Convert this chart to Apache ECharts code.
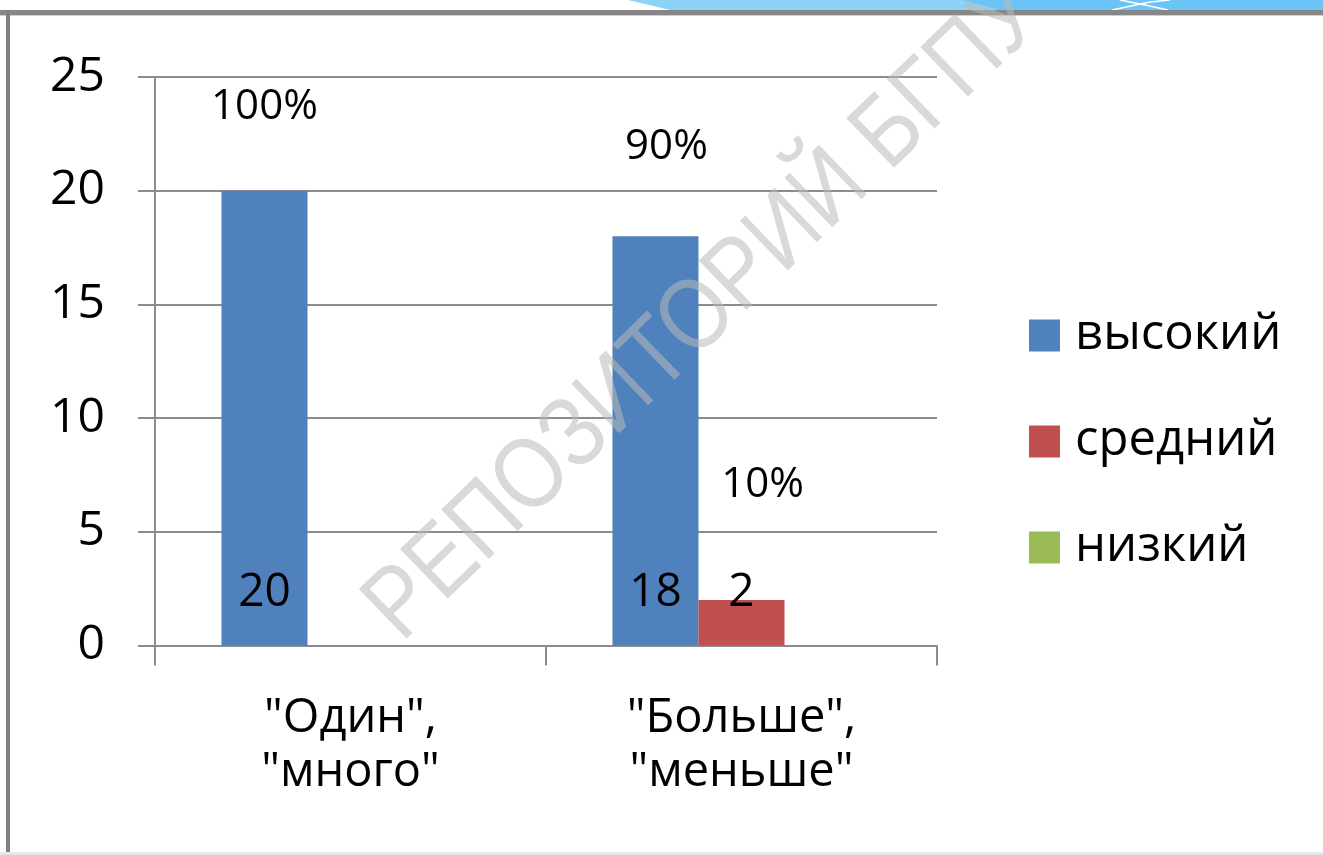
<!DOCTYPE html>
<html>
<head>
<meta charset="utf-8">
<script src="https://cdn.jsdelivr.net/npm/echarts@6/dist/echarts.min.js"></script>
<style>
html,body{margin:0;padding:0;background:#fff;}
#main{width:1323px;height:855px;}
</style>
</head>
<body>
<div id="main"></div>
<script>
const categories = ['"Один",\n"много"', '"Больше",\n"меньше"'];
const seriesNames = ['высокий', 'средний', 'низкий'];
const highValues = [20, 18];
const midValues = [0, 2];
const lowValues = [0, 0];
const pctTexts = ['100%', '90%', '10%'];
const yTicks = [0, 5, 10, 15, 20, 25];
const watermark = 'РЕПОЗИТОРИЙ БГПУ';

const FONT = 'Open Sans';
const chart = echarts.init(document.getElementById('main'), null, {renderer: 'canvas'});

const valueLabel = {
  show: true,
  position: 'insideBottom',
  distance: 30,
  fontFamily: FONT,
  fontSize: 46,
  color: '#000',
  formatter: p => (p.value ? String(p.value) : '')
};
const pctLabel = {
  show: true,
  position: 'inside',
  fontFamily: FONT,
  fontSize: 42,
  color: '#000',
  formatter: p => p.name
};

const option = {
  backgroundColor: '#fff',
  animation: false,
  grid: {left: 155, right: 386, top: 77, bottom: 209.5},
  legend: {
    orient: 'vertical',
    left: 1024,
    top: 306,
    icon: 'rect',
    itemWidth: 31,
    itemHeight: 32,
    itemGap: 57,
    data: seriesNames,
    textStyle: {fontFamily: FONT, fontSize: 49, lineHeight: 48, color: '#000', padding: [0, 0, 0, 10]}
  },
  xAxis: {
    type: 'category',
    data: categories,
    axisLine: {lineStyle: {color: '#8c8c8c', width: 2}},
    axisTick: {show: true, length: 20, lineStyle: {color: '#8c8c8c', width: 2}},
    axisLabel: {fontFamily: FONT, fontSize: 47, lineHeight: 54, color: '#000', margin: 46, interval: 0}
  },
  yAxis: {
    type: 'value',
    min: yTicks[0],
    max: yTicks[yTicks.length - 1],
    interval: 5,
    axisLine: {show: true, lineStyle: {color: '#8c8c8c', width: 2}},
    axisTick: {show: true, length: 17, lineStyle: {color: '#8c8c8c', width: 2}},
    splitLine: {show: true, lineStyle: {color: '#8c8c8c', width: 2}},
    axisLabel: {fontFamily: FONT, fontSize: 48, color: '#000', margin: 50}
  },
  series: [
    {
      name: seriesNames[0], type: 'bar', data: highValues,
      barCategoryGap: '34%', barGap: '0%',
      itemStyle: {color: '#4f81bd'},
      label: valueLabel,
      markPoint: {
        symbol: 'circle', symbolSize: 1,
        itemStyle: {color: 'rgba(0,0,0,0)'},
        label: pctLabel,
        data: [
          {name: pctTexts[0], coord: [0, 23.66]},
          {name: pctTexts[1], coord: [1, 21.94], label: {offset: [11, 0]}}
        ]
      }
    },
    {
      name: seriesNames[1], type: 'bar', data: midValues,
      barCategoryGap: '34%', barGap: '0%',
      itemStyle: {color: '#c0504d'},
      label: valueLabel,
      markPoint: {
        symbol: 'circle', symbolSize: 1,
        itemStyle: {color: 'rgba(0,0,0,0)'},
        label: pctLabel,
        data: [
          {name: pctTexts[2], coord: [1, 7.06], label: {offset: [21, 0]}}
        ]
      }
    },
    {
      name: seriesNames[2], type: 'bar', data: lowValues,
      barCategoryGap: '34%', barGap: '0%',
      itemStyle: {color: '#9bbb59'},
      label: valueLabel
    }
  ],
  graphic: [
    // blue swoosh at top right
    {type: 'polygon', z: 50, shape: {points: [[628, 0], [1323, 0], [1323, 10], [670, 10]]}, style: {fill: '#8dd3f7'}},
    {type: 'polygon', z: 51, shape: {points: [[962, 0], [1323, 0], [1323, 10], [1000, 10]]}, style: {fill: '#6ac5f6'}},
    {type: 'polyline', z: 52, shape: {points: [[1112, 10], [1150, 2], [1170, 0]]}, style: {stroke: '#ffffff', lineWidth: 1.5, fill: null}},
    {type: 'polyline', z: 52, shape: {points: [[1120, 0], [1145, 5], [1168, 10]]}, style: {stroke: '#ffffff', lineWidth: 1.5, fill: null}},
    // frame
    {type: 'rect', z: 53, shape: {x: 0, y: 10, width: 1323, height: 5}, style: {fill: '#878787'}},
    {type: 'rect', z: 53, shape: {x: 0, y: 15, width: 1323, height: 1}, style: {fill: '#cfcfcf'}},
    {type: 'rect', z: 53, shape: {x: 6, y: 10, width: 4, height: 845}, style: {fill: '#808080'}},
    {type: 'rect', z: 53, shape: {x: 0, y: 852, width: 1323, height: 3}, style: {fill: '#e8e8e8'}},
    // watermark
    {
      type: 'text', z: 100,
      x: 705, y: 312,
      rotation: 44 * Math.PI / 180,
      scaleX: 0.86,
      scaleY: 1,
      style: {
        text: watermark,
        fontFamily: 'Liberation Sans',
        fontSize: 100,
        fill: 'rgba(185,185,185,0.55)',
        align: 'center',
        verticalAlign: 'middle'
      }
    }
  ]
};
chart.setOption(option);
</script>
</body>
</html>
